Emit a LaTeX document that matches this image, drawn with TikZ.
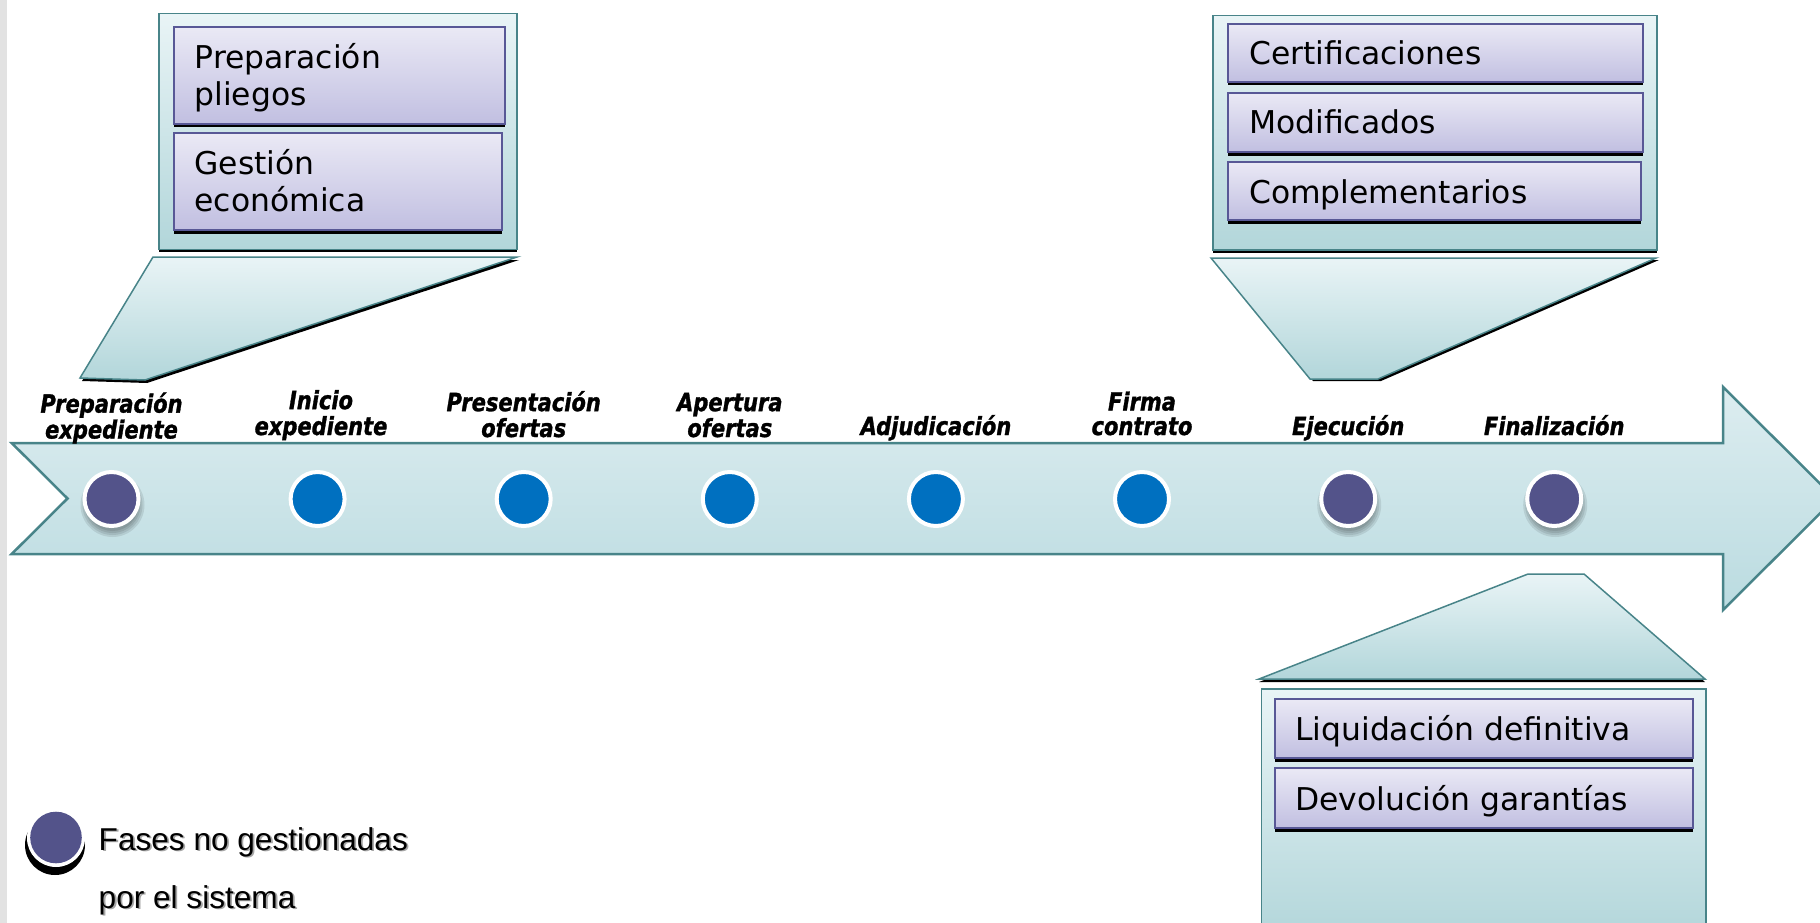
\documentclass[tikz,border=0pt]{standalone}
\usepackage{fontspec}
\setmainfont{DejaVu Sans}
\newfontfamily\boxfont{DejaVu Sans}
\newfontfamily\lblfont[FakeStretch=0.84,FakeBold=1.2]{DejaVu Sans}
\newfontfamily\legfont{Liberation Sans}
\usetikzlibrary{shadows}
\definecolor{tealc}{RGB}{72,132,137}
\definecolor{contTop}{RGB}{233,244,246}
\definecolor{contBot}{RGB}{178,214,218}
\definecolor{arrTop}{RGB}{221,237,240}
\definecolor{arrBot}{RGB}{186,219,224}
\definecolor{itemTop}{RGB}{234,233,245}
\definecolor{itemBot}{RGB}{193,191,225}
\definecolor{itemBorder}{RGB}{88,88,150}
\definecolor{phasePurple}{RGB}{83,83,138}
\definecolor{phaseBlue}{RGB}{0,112,192}
\definecolor{stripGray}{RGB}{226,226,226}
\tikzset{
  container/.style={draw=tealc, line width=1.5pt, top color=contTop, bottom color=contBot, inner sep=0pt, anchor=north west, drop shadow={shadow xshift=0pt, shadow yshift=-3pt, fill=black, opacity=1}},
  itembox/.style={draw=itemBorder, line width=2pt, top color=itemTop, bottom color=itemBot, inner sep=0pt, anchor=north west, drop shadow={shadow xshift=0pt, shadow yshift=-3.5pt, fill=black, opacity=1}},
  itemtext/.style={anchor=base west, inner sep=0pt, text=black, font=\boxfont\fontsize{31.4}{37}\selectfont},
  callout/.style={draw=tealc, line width=1.5pt, top color=contTop, bottom color=contBot, line join=miter},
  phase/.style={circle, draw=white, line width=4pt, minimum size=54pt, inner sep=0pt},
  phaselabel/.style={anchor=base, inner sep=0pt, text=black, font=\lblfont\bfseries\itshape\fontsize{25}{23}\selectfont},
  legtext/.style={anchor=base west, inner sep=0pt, font=\legfont\fontsize{31.6}{58}\selectfont},
}
\begin{document}
\begin{tikzpicture}[x=1pt,y=-1pt]
\useasboundingbox (0,0) rectangle (1820,923);
\clip (0,0) rectangle (1820,923);
\fill[stripGray] (0,0) rectangle (7,923);

% timeline arrow
\draw[draw=tealc, line width=2.5pt, top color=arrTop, bottom color=arrBot, line join=miter]
  (11.7,443) -- (1723,443) -- (1723,387) -- (1835,498.5) -- (1723,610) -- (1723,554) -- (11.7,554) -- (67.5,498.5) -- cycle;

% soft shadows of the purple phases
\foreach \cx in {111.5,1348.2,1554.2}{
  \foreach \r in {26,28,30,32}{
    \fill[black, opacity=0.09] (\cx+1,505) circle[radius=\r pt];
  }
}

% phases
\node[phase, fill=phasePurple] (p1) at (111.5,499) {};
\node[phase, fill=phaseBlue]   (p2) at (317.6,499) {};
\node[phase, fill=phaseBlue]   (p3) at (523.7,499) {};
\node[phase, fill=phaseBlue]   (p4) at (729.8,499) {};
\node[phase, fill=phaseBlue]   (p5) at (935.9,499) {};
\node[phase, fill=phaseBlue]   (p6) at (1142.0,499) {};
\node[phase, fill=phasePurple] (p7) at (1348.2,499) {};
\node[phase, fill=phasePurple] (p8) at (1554.2,499) {};

% phase labels
\node[phaselabel] (l1) at (111.5,438.5) {\begin{tabular}[b]{@{}c@{}}Preparación\\expediente\end{tabular}};
\node[phaselabel] (l2) at (321,435) {\begin{tabular}[b]{@{}c@{}}Inicio\\expediente\end{tabular}};
\node[phaselabel] (l3) at (523.7,437) {\begin{tabular}[b]{@{}c@{}}Presentación\\ofertas\end{tabular}};
\node[phaselabel] (l4) at (729.8,437) {\begin{tabular}[b]{@{}c@{}}Apertura\\ofertas\end{tabular}};
\node[phaselabel] (l5) at (935.9,435) {Adjudicación};
\node[phaselabel] (l6) at (1142.0,435) {\begin{tabular}[b]{@{}c@{}}Firma\\contrato\end{tabular}};
\node[phaselabel] (l7) at (1348.2,435) {Ejecución};
\node[phaselabel] (l8) at (1554.2,435) {Finalización};

% top-left group
\node[container, minimum width=358pt, minimum height=235.5pt] (cl) at (158,13) {};
\node[itembox, minimum width=331pt, minimum height=97pt] (bl1) at (173,26) {};
\node[itembox, minimum width=328pt, minimum height=97pt] (bl2) at (173,132) {};
\node[itemtext] (tl1) at (194.4,68.3) {\begin{tabular}[t]{@{}l@{}}Preparación\\pliegos\end{tabular}};
\node[itemtext] (tl2) at (194.4,174) {\begin{tabular}[t]{@{}l@{}}Gestión\\económica\end{tabular}};
\draw[callout, drop shadow={shadow xshift=2pt, shadow yshift=-3pt, fill=black, opacity=1}]
  (153,257) -- (517,257) -- (145,380) -- (80,378) -- cycle;

% top-right group
\node[container, minimum width=444pt, minimum height=234pt] (cr) at (1212,15) {};
\node[itembox, minimum width=415pt, minimum height=58pt] (br1) at (1227,23) {};
\node[itembox, minimum width=415pt, minimum height=59pt] (br2) at (1227,92) {};
\node[itembox, minimum width=413pt, minimum height=58pt] (br3) at (1227,161) {};
\node[itemtext] (tr1) at (1249,65) {Certificaciones};
\node[itemtext] (tr2) at (1249,134) {Modificados};
\node[itemtext] (tr3) at (1249,203) {Complementarios};
\draw[callout, drop shadow={shadow xshift=3pt, shadow yshift=-2pt, fill=black, opacity=1}]
  (1211,258) -- (1656,258) -- (1378,379) -- (1310,379) -- cycle;

% bottom-right group
\draw[callout, drop shadow={shadow xshift=0pt, shadow yshift=-3pt, fill=black, opacity=1}]
  (1528,574) -- (1584,574) -- (1705,679) -- (1259,679) -- cycle;
\node[container, minimum width=444.5pt, minimum height=250pt] (cb) at (1260.5,688) {};
\node[itembox, minimum width=418pt, minimum height=59pt] (bb1) at (1273.5,698) {};
\node[itembox, minimum width=418pt, minimum height=60pt] (bb2) at (1273.5,767) {};
\node[itemtext] (tb1) at (1295,740) {Liquidación definitiva};
\node[itemtext] (tb2) at (1295,810) {Devolución garantías};

% legend
\node[circle, fill=black, minimum size=60pt, inner sep=0pt] (lgs) at (55,845) {};
\node[circle, fill=white, minimum size=58pt, inner sep=0pt] (lgw) at (56,838) {};
\node[circle, fill=phasePurple, minimum size=51.6pt, inner sep=0pt] (lg) at (56,837.5) {};
\node[legtext, text=black!35] (lts) at (100.3,851.8) {\begin{tabular}[t]{@{}l@{}}Fases no gestionadas\\por el sistema\end{tabular}};
\node[legtext, text=black] (lt) at (98.5,850) {\begin{tabular}[t]{@{}l@{}}Fases no gestionadas\\por el sistema\end{tabular}};
\end{tikzpicture}
\end{document}
